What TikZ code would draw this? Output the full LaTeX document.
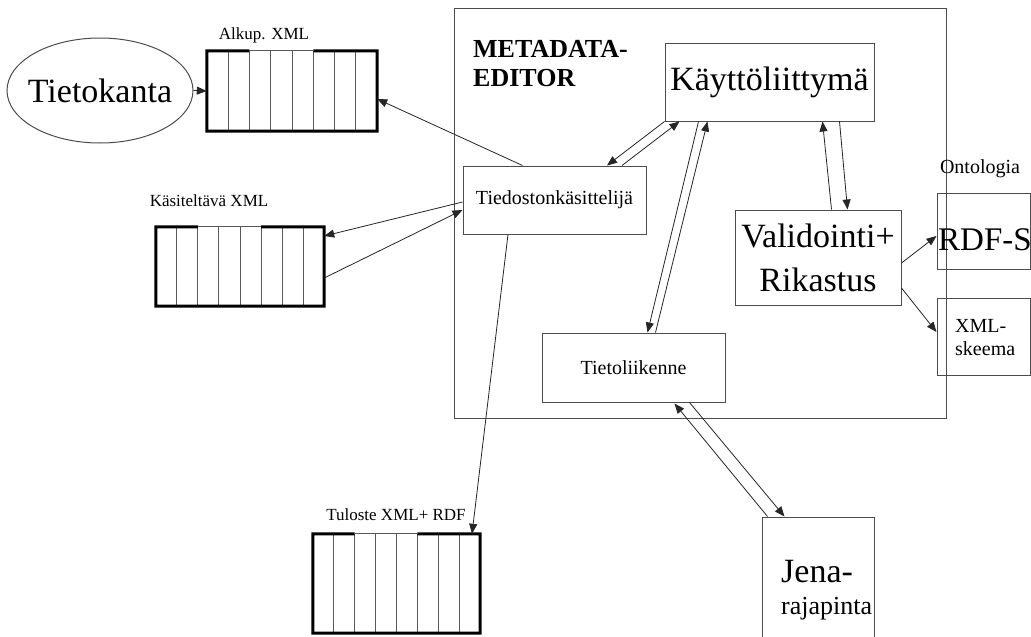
\documentclass[tikz,border=0pt]{standalone}
\usepackage{fontspec}
\setmainfont{Liberation Serif}
\usetikzlibrary{arrows.meta,calc,shapes.geometric}
\newcommand\xmlstore[1]{%
  \foreach \k in {1,...,7}{\draw[divider] ($(#1.north west)!\k/8!(#1.north east)$) -- ($(#1.south west)!\k/8!(#1.south east)$);}
  \draw[storeline] ($(#1.north west)!0.25!(#1.north east)$) -- (#1.north west) -- (#1.south west) -- (#1.south east) -- (#1.north east) -- ($(#1.north west)!0.625!(#1.north east)$);
  \draw[divider] ($(#1.north west)!0.25!(#1.north east)$) -- ($(#1.north west)!0.625!(#1.north east)$);
}
\begin{document}
\begin{tikzpicture}[x=1pt,y=-1pt,
  box/.style={draw=black!70,line width=1pt,rectangle,inner sep=0pt,align=center},
  store/.style={rectangle,inner sep=0pt},
  divider/.style={draw=black!65,line width=1pt},
  storeline/.style={draw=black,line width=3pt,line join=miter},
  conn/.style={draw=black!85,line width=0.8pt,-{Triangle[length=10pt,width=8pt]}},
  lbl/.style={inner sep=0pt,font=\fontsize{17}{20}\selectfont},
  big/.style={font=\fontsize{34}{40}\selectfont},
  mid/.style={font=\fontsize{20}{23}\selectfont}]
\clip (0,0) rectangle (1031,637);
\fill[white] (0,0) rectangle (1031,637);

% main editor box
\node[box,minimum width=492pt,minimum height=410pt] (meta) at (700,213) {};
\node[inner sep=0pt,anchor=base west,align=left,
      font=\fontsize{26}{29}\selectfont\bfseries] (metalbl) at (473,86) {METADATA-\\EDITOR};

% database
\node[ellipse,draw=black!70,line width=1pt,minimum width=186pt,minimum height=105pt,
      inner xsep=-20pt,inner ysep=0pt,big] (tk) at (100,90.5) {Tietokanta};

% XML stores
\node[store,minimum width=170pt,minimum height=80pt] (alkup) at (292,91) {};
\xmlstore{alkup}
\node[lbl,anchor=base] (alkuplbl) at (264,39) {Alkup. XML};

\node[store,minimum width=168pt,minimum height=79pt] (kas) at (240,266.5) {};
\xmlstore{kas}
\node[lbl,anchor=base] (kaslbl) at (209,206) {Käsiteltävä XML};

\node[store,minimum width=167pt,minimum height=99pt] (tul) at (396.5,583.5) {};
\xmlstore{tul}
\node[lbl,anchor=base] (tullbl) at (396,520) {Tuloste XML+ RDF};

% components
\node[box,minimum width=209pt,minimum height=78pt,big] (kay) at (769.5,82) {Käyttöliittymä};
\node[box,minimum width=183pt,minimum height=68pt,mid] (tied) at (554.5,200) {Tiedostonkäsittelijä};
\node[box,minimum width=166pt,minimum height=95pt,
      font=\fontsize{34}{44}\selectfont] (val) at (818,257.5) {Validointi+\\Rikastus};
\node[box,minimum width=183pt,minimum height=69pt,mid] (tiet) at (633.5,367.5) {Tietoliikenne};

% ontology
\node[lbl,anchor=base,font=\fontsize{20}{22}\selectfont] (ontlbl) at (980,173) {Ontologia};
\node[box,minimum width=93pt,minimum height=76pt] (rdfs) at (983.5,231) {};
\node[inner sep=0pt,anchor=base west,font=\fontsize{33}{36}\selectfont] (rdfslbl) at (938,250) {RDF-S};
\node[box,minimum width=93pt,minimum height=77pt] (xmls) at (983.5,336.5) {};
\node[inner sep=0pt,anchor=base west,align=left,font=\fontsize{20}{23}\selectfont] (xmlslbl) at (955,355) {XML-\\skeema};

% Jena
\node[box,minimum width=112pt,minimum height=143pt] (jena) at (818,588.5) {};
\node[inner sep=0pt,anchor=base west,font=\fontsize{34}{38}\selectfont] (jenalbl) at (781,582) {Jena-};
\node[inner sep=0pt,anchor=base west,font=\fontsize{26}{30}\selectfont] (rajalbl) at (781,614) {rajapinta};

% connectors
\draw[conn] (tk.east) -- (alkup.west);
\draw[conn] ($(tied.north west)+(60,0)$) -- ($(alkup.east)+(0,8)$);
\draw[conn] ($(tied.west)+(0,2)$) -- ($(kas.east)+(0,-30.5)$);
\draw[conn] ($(kas.east)+(0,11.5)$) -- ($(tied.west)+(0,10)$);
\draw[conn] ($(tied.south)+(-46.5,0)$) -- ($(tul.north)+(75.5,0)$);
\draw[conn] (kay.south west) -- ($(tied.north)+(52.5,0)$);
\draw[conn] ($(tied.north)+(67.5,0)$) -- ($(kay.south west)+(15,0)$);
\draw[conn] ($(kay.south west)+(34,0)$) -- ($(tiet.north west)+(106,0)$);
\draw[conn] ($(tiet.north west)+(114,0)$) -- ($(kay.south west)+(43,0)$);
\draw[conn] ($(val.north west)+(97,0)$) -- ($(kay.south west)+(158,0)$);
\draw[conn] ($(kay.south west)+(175,0)$) -- ($(val.north west)+(113,0)$);
\draw[conn] ($(val.east)+(0,5.5)$) -- ($(rdfs.west)+(0,5)$);
\draw[conn] ($(val.east)+(0,30.5)$) -- ($(xmls.west)+(0,-4.5)$);
\draw[conn] ($(jena.north west)+(6,0)$) -- ($(tiet.south west)+(133,1)$);
\draw[conn] ($(tiet.south west)+(148,0)$) -- ($(jena.north west)+(23,0)$);
\end{tikzpicture}
\end{document}
